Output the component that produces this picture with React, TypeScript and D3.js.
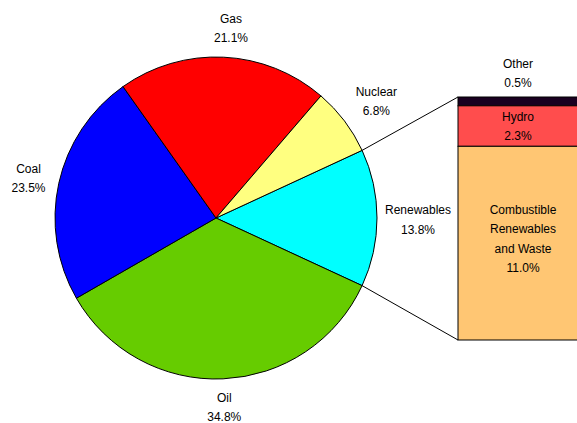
import React from "react";
import * as d3 from "d3";

const sources = ["Renewables", "Oil", "Coal", "Gas", "Nuclear"];
const shares = [13.8, 34.8, 23.5, 21.1, 6.8];
const sliceColors = ["#00ffff", "#66cc00", "#0000ff", "#ff0000", "#ffff80"];

const subSources = ["Other", "Hydro", "Combustible Renewables and Waste"];
const subShares = [0.5, 2.3, 11.0];
const subColors = ["#1a0020", "#ff4d4d", "#ffc673"];

const W = 577;
const H = 423;
const cx = 216;
const cy = 218;
const R = 161;

export default function App() {
  const total = d3.sum(shares);
  const renewSpan = (shares[0] / total) * 2 * Math.PI;
  const start = Math.PI / 2 - renewSpan / 2;
  const pie = d3
    .pie<number>()
    .sort(null)
    .value((d) => d)
    .startAngle(start)
    .endAngle(start + 2 * Math.PI);
  const arcs = pie(shares);
  const arc = d3.arc<d3.PieArcDatum<number>>().innerRadius(0).outerRadius(R);

  const ren = arcs[0];
  const pt = (a: number, r: number) => [cx + r * Math.sin(a), cy - r * Math.cos(a)];
  const [ux, uy] = pt(ren.startAngle, R);
  const [lx, ly] = pt(ren.endAngle, R);

  const barX = 458;
  const barW = 132;
  const barTop = 97;
  const barBottom = 340;
  const subTotal = d3.sum(subShares);
  const y = d3.scaleLinear().domain([0, subTotal]).range([barTop, barBottom]);
  let acc = 0;
  const stacks = subShares.map((v, i) => {
    const s = { y0: y(acc), y1: y(acc + v), v, i };
    acc += v;
    return s;
  });

  const fmt = (v: number) => v.toFixed(1) + "%";
  const font = "Liberation Sans, Arial, sans-serif";
  const labelR = [202, 188, 192, 192, 196];
  const labelShift = [0, 0, 0, 6, 4];

  return (
    <svg
      width={W}
      height={H}
      style={{ position: "absolute", left: 0, top: 0, background: "#fff" }}
      fontFamily={font}
      fontSize={12}
    >
      <g transform={`translate(${cx},${cy})`}>
        {arcs.map((a, i) => (
          <path key={i} d={arc(a) || ""} fill={sliceColors[i]} stroke="#000" strokeWidth={1} />
        ))}
      </g>
      <line x1={ux} y1={uy} x2={barX} y2={barTop} stroke="#000" strokeWidth={1} />
      <line x1={lx} y1={ly} x2={barX} y2={barBottom} stroke="#000" strokeWidth={1} />
      {stacks.map((s) => (
        <rect
          key={s.i}
          x={barX}
          y={s.y0}
          width={barW}
          height={s.y1 - s.y0}
          fill={subColors[s.i]}
          stroke="#000"
          strokeWidth={1}
        />
      ))}
      {arcs.map((a, i) => {
        const mid = (a.startAngle + a.endAngle) / 2;
        const [x0, yy] = pt(mid, labelR[i]);
        const x = x0 + labelShift[i];
        return (
          <text key={i} x={x} y={yy} textAnchor="middle" fill="#000">
            <tspan x={x} dy="-0.3em">{sources[i]}</tspan>
            <tspan x={x} dy="1.6em">{fmt(shares[i])}</tspan>
          </text>
        );
      })}
      <text x={518} y={68} textAnchor="middle">
        <tspan x={518}>{subSources[0]}</tspan>
        <tspan x={518} dy="1.6em">{fmt(subShares[0])}</tspan>
      </text>
      <text x={518} y={(stacks[1].y0 + stacks[1].y1) / 2 - 5} textAnchor="middle">
        <tspan x={518}>{subSources[1]}</tspan>
        <tspan x={518} dy="1.6em">{fmt(subShares[1])}</tspan>
      </text>
      {(() => {
        const words = ["Combustible", "Renewables", "and Waste", fmt(subShares[2])];
        const my = (stacks[2].y0 + stacks[2].y1) / 2 - 29;
        return (
          <text x={523} y={my} textAnchor="middle">
            {words.map((w, k) => (
              <tspan key={k} x={523} dy={k === 0 ? 0 : "1.6em"}>{w}</tspan>
            ))}
          </text>
        );
      })()}
    </svg>
  );
}
